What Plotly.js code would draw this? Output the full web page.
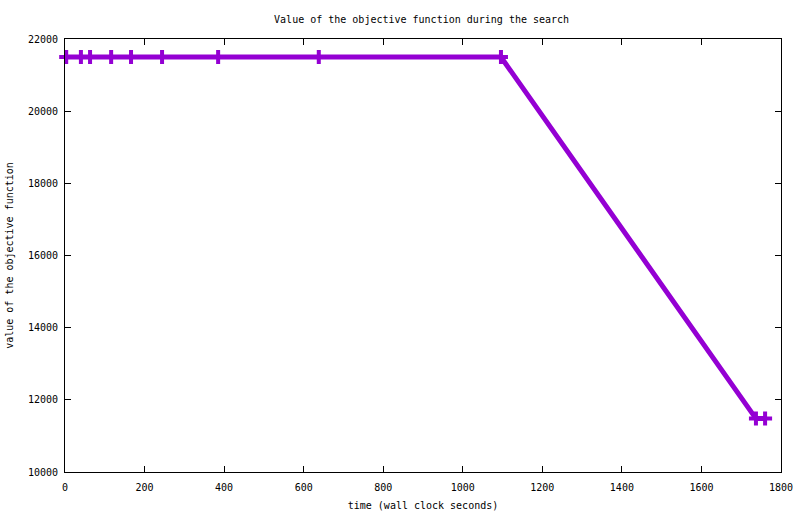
<!DOCTYPE html>
<html>
<head>
<meta charset="utf-8">
<script src="https://cdn.plot.ly/plotly-3.0.1.min.js"></script>
<style>html,body{margin:0;padding:0;background:#fff;}#chart{width:800px;height:514px;}</style>
</head>
<body>
<div id="chart"></div>
<script>
var timeSeconds = [3, 40, 63, 116, 166, 244, 385, 638, 1096, 1737, 1760];
var objectiveValues = [21500, 21500, 21500, 21500, 21500, 21500, 21500, 21500, 21500, 11480, 11480];
var xTicks = [0, 200, 400, 600, 800, 1000, 1200, 1400, 1600, 1800];
var yTicks = [10000, 12000, 14000, 16000, 18000, 20000, 22000];

var fontFam = "DejaVu Sans Mono, monospace";
var trace = {
  x: timeSeconds,
  y: objectiveValues,
  mode: 'lines+markers',
  type: 'scatter',
  line: {color: '#9400d3', width: 5},
  marker: {symbol: 'cross-thin', size: 10, color: '#9400d3', line: {color: '#9400d3', width: 4}},
  showlegend: false,
  cliponaxis: false
};
var axisCommon = {
  showline: true, linecolor: '#000', linewidth: 1, mirror: 'ticks',
  ticks: 'inside', ticklen: 6, tickcolor: '#000', tickwidth: 1,
  showgrid: false, zeroline: false,
  tickfont: {family: fontFam, size: 10, color: '#000'}
};
var layout = {
  width: 800, height: 514,
  margin: {l: 65, r: 19, t: 39, b: 42},
  paper_bgcolor: '#fff', plot_bgcolor: '#fff',
  title: {text: 'Value of the objective function during the search', font: {family: fontFam, size: 10, color: '#000'}, x: 0.527, xanchor: 'center', y: 0.963, yanchor: 'middle'},
  xaxis: Object.assign({}, axisCommon, {
    range: [0, 1800], tickmode: 'array', tickvals: xTicks, ticktext: xTicks.map(String),
    ticklabelstandoff: 6,
    title: {text: 'time (wall clock seconds)', font: {family: fontFam, size: 10, color: '#000'}, standoff: 9}
  }),
  yaxis: Object.assign({}, axisCommon, {
    range: [10000, 22000], tickmode: 'array', tickvals: yTicks, ticktext: yTicks.map(String),
    ticklabelstandoff: 4,
    title: {text: 'value of the objective function', font: {family: fontFam, size: 10, color: '#000'}, standoff: 12}
  })
};
Plotly.newPlot('chart', [trace], layout, {displayModeBar: false, staticPlot: true});
</script>
</body>
</html>
